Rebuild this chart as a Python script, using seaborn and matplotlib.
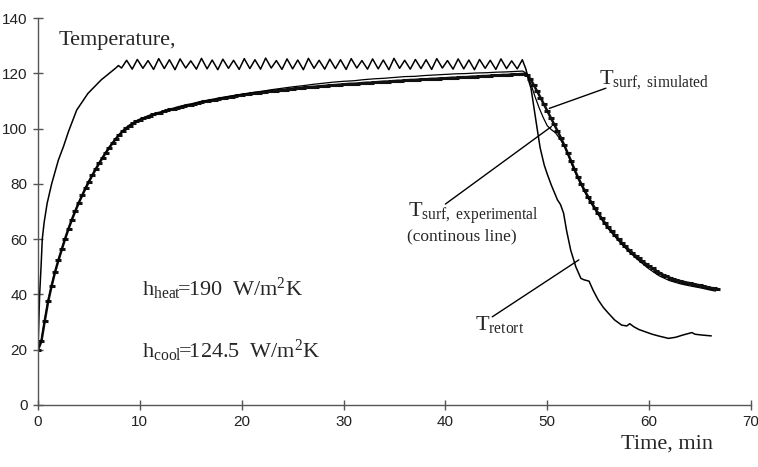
import numpy as np
import pandas as pd
import matplotlib
matplotlib.use("Agg")
import matplotlib.pyplot as plt
from matplotlib import font_manager
import seaborn as sns

# ---------------- data ----------------
# retort temperature: heating rise, zig-zag plateau, cooling
retort_rise_time = [0.0, 0.08, 0.16, 0.3, 0.42, 0.6, 0.9, 1.34, 2.0, 2.5, 3.0, 3.8, 4.9, 6.2, 7.0, 7.6, 7.9]
retort_rise_temp = [20.0, 30.0, 40.0, 50.0, 60.0, 66.0, 73.0, 80.0, 88.6, 93.5, 99.0, 106.7, 112.7, 117.6, 120.0, 121.8, 122.8]

zig_time = [8.2, 8.7, 9.25, 9.75, 10.3, 10.8, 11.35, 11.85, 12.4, 12.9, 13.45, 13.95, 14.5, 15.0,
            15.55, 16.05, 16.6, 17.1, 17.65, 18.15, 18.7, 19.2, 19.75, 20.25, 20.8, 21.3, 21.85, 22.35,
            22.9, 23.4, 23.95, 24.45, 25.0, 25.5, 26.05, 26.55, 27.1, 27.6, 28.15, 28.65, 29.2, 29.7,
            30.25, 30.75, 31.3, 31.8, 32.35, 32.85, 33.4, 33.9, 34.45, 34.95, 35.5, 36.0, 36.55, 37.05,
            37.6, 38.1, 38.65, 39.15, 39.7, 40.2, 40.75, 41.25, 41.8, 42.3, 42.85, 43.35, 43.9, 44.4,
            44.95, 45.45, 46.0, 46.5, 47.05, 47.55]
zig_temp = [121.9, 124.7, 121.5, 125.0, 121.8, 124.6, 121.4, 125.3, 121.7, 124.9, 121.3, 125.2, 121.9, 124.5,
            121.5, 125.4, 121.6, 124.8, 121.3, 125.1, 121.8, 124.7, 121.4, 125.3, 121.7, 124.9, 121.5, 125.5,
            121.9, 124.6, 121.4, 125.2, 121.6, 124.8, 121.3, 125.4, 121.8, 124.7, 121.5, 125.1, 121.7, 124.9,
            121.4, 125.3, 121.9, 124.6, 121.5, 125.2, 121.6, 124.8, 121.3, 125.4, 121.8, 124.7, 121.5, 125.0,
            121.7, 124.9, 121.4, 125.3, 121.9, 124.6, 121.5, 125.2, 121.6, 124.8, 121.3, 125.0, 121.8, 124.7,
            121.4, 125.2, 121.7, 124.5, 121.6, 124.9]

retort_cool_time = [47.9, 48.2, 48.4, 48.7, 49.0, 49.3, 49.7, 50.0, 50.4, 51.0, 51.3, 51.6, 51.9, 52.3, 52.8,
                    53.3, 53.6, 54.1, 54.5, 55.0, 55.5, 56.0, 56.6, 57.3, 57.8, 58.1, 58.5, 59.0, 59.6, 60.3,
                    61.0, 61.9, 62.6, 63.3, 64.2, 64.5, 65.2, 66.1]
retort_cool_temp = [121.5, 117.0, 114.6, 107.3, 100.1, 93.0, 86.8, 83.5, 79.5, 74.2, 72.5, 69.4, 63.0, 56.0, 50.0,
                    45.8, 45.3, 44.8, 41.5, 38.0, 35.3, 33.2, 30.8, 28.9, 28.6, 29.4, 28.3, 27.3, 26.5, 25.6,
                    24.9, 24.1, 24.5, 25.3, 26.2, 25.6, 25.3, 25.0]

# simulated surface temperature, sampled every 1/3 min
sim_step = 1.0 / 3.0
sim_temp = [20.0, 23.0, 30.5, 37.5, 43.0, 48.0, 52.3, 56.3, 60.2, 63.8,
            67.1, 70.2, 73.1, 75.8, 78.4, 80.8, 83.1, 85.3, 87.4, 89.4,
            91.3, 93.1, 94.8, 96.4, 97.8, 99.1, 100.2, 101.1, 101.9, 102.6,
            103.2, 103.7, 104.2, 104.7, 105.1, 105.5, 105.8, 106.2, 106.6, 106.9,
            107.2, 107.6, 107.9, 108.2, 108.5, 108.7, 109.0, 109.3, 109.6, 109.8,
            110.1, 110.3, 110.5, 110.8, 111.0, 111.2, 111.4, 111.6, 111.8, 112.0,
            112.2, 112.4, 112.5, 112.7, 112.9, 113.0, 113.2, 113.3, 113.5, 113.6,
            113.7, 113.9, 114.0, 114.1, 114.3, 114.4, 114.5, 114.7, 114.8, 114.9,
            115.0, 115.1, 115.2, 115.3, 115.4, 115.5, 115.6, 115.7, 115.8, 115.9,
            116.0, 116.1, 116.2, 116.2, 116.3, 116.4, 116.5, 116.6, 116.6, 116.7,
            116.8, 116.9, 117.0, 117.0, 117.1, 117.2, 117.3, 117.3, 117.4, 117.5,
            117.6, 117.6, 117.7, 117.8, 117.8, 117.9, 118.0, 118.0, 118.1, 118.2,
            118.2, 118.3, 118.4, 118.4, 118.5, 118.6, 118.6, 118.7, 118.8, 118.8,
            118.9, 119.0, 119.0, 119.1, 119.2, 119.2, 119.3, 119.4, 119.4, 119.5,
            119.6, 119.6, 119.7, 119.8, 119.3, 118.0, 115.8, 113.5, 111.2, 108.8,
            106.4, 104.0, 101.6, 99.2, 96.7, 94.0, 91.2, 88.3, 85.3, 82.5,
            80.0, 77.6, 75.4, 73.3, 71.3, 69.4, 67.6, 65.9, 64.3, 62.8,
            61.4, 60.0, 58.7, 57.4, 56.2, 55.1, 54.0, 53.0, 52.0, 51.1,
            50.2, 49.4, 48.6, 47.9, 47.2, 46.6, 46.1, 45.6, 45.2, 44.9,
            44.6, 44.3, 44.1, 43.8, 43.5, 43.3, 43.0, 42.7, 42.4, 42.2,
            42.0]

# experimental surface temperature (continuous line)
exp_time = [0.0, 0.33, 0.67, 1.0, 1.5, 2.0, 2.5, 3.0, 3.5, 4.0, 5.0, 6.0, 7.0, 8.0, 9.0, 10.0,
            11, 12, 13, 14, 15, 16, 17, 18, 19, 20, 21, 22, 23, 24, 25, 26, 27, 28, 29, 30,
            31, 32, 33, 34, 35, 36, 37, 38, 39, 40, 41, 42, 43, 44, 45, 46, 47, 47.6,
            48.0, 48.4, 48.8, 49.2, 49.6, 50.0, 50.4, 50.8, 51.3, 51.8, 52.3, 53.0, 54.0, 55.0,
            56.0, 57.0, 58.0, 59.0, 60.0, 61.0, 62.0, 63.0, 64.0, 65.0, 66.0, 66.5]
exp_temp = [20.0, 23.5, 31.0, 38.0, 45.8, 52.4, 58.4, 63.9, 68.8, 73.3, 81.0, 87.6, 93.3, 97.9, 101.2, 103.3,
            104.6, 105.8, 106.9, 107.9, 108.8, 109.6, 110.4, 111.1, 111.8, 112.4, 113.0, 113.5, 114.1, 114.6,
            115.1, 115.5, 116.0, 116.4, 116.8, 117.1, 117.3, 117.7, 118.0, 118.2, 118.5, 118.8, 118.9, 119.2,
            119.4, 119.6, 119.8, 119.9, 120.1, 120.2, 120.4, 120.5, 120.7, 120.8,
            119.8, 116.0, 111.5, 107.5, 104.0, 101.0, 99.6, 98.5, 96.0, 92.8, 88.0, 82.0, 74.8, 68.8,
            63.7, 59.4, 55.5, 52.2, 49.2, 46.7, 45.0, 43.9, 43.1, 42.4, 41.6, 41.2]

x_ticks = [0, 10, 20, 30, 40, 50, 60, 70]
y_ticks = [0, 20, 40, 60, 80, 100, 120, 140]

# ---------------- style ----------------
sns.set_theme(style="white")
plt.rcParams["font.family"] = ["Liberation Serif", "DejaVu Serif"]
plt.rcParams["mathtext.fontset"] = "custom"
plt.rcParams["mathtext.rm"] = "Liberation Serif"
plt.rcParams["mathtext.it"] = "Liberation Serif:italic"
plt.rcParams["mathtext.bf"] = "Liberation Serif:bold"

available = {f.name for f in font_manager.fontManager.ttflist}
tick_family = "Liberation Sans Narrow" if "Liberation Sans Narrow" in available else "Liberation Sans"

fig = plt.figure(figsize=(7.58, 4.67), dpi=100)
ax = fig.add_axes([38 / 758, 1 - 405 / 467, 713 / 758, 387 / 467])

retort = pd.DataFrame({
    "t": retort_rise_time + zig_time + retort_cool_time,
    "T": retort_rise_temp + zig_temp + retort_cool_temp,
})
sim = pd.DataFrame({"t": np.arange(len(sim_temp)) * sim_step, "T": sim_temp})
exp = pd.DataFrame({"t": exp_time, "T": exp_temp})

sns.lineplot(data=retort, x="t", y="T", ax=ax, color="black", linewidth=1.1,
             estimator=None, sort=False)
sns.lineplot(data=sim, x="t", y="T", ax=ax, color="#111111", linewidth=1.8,
             marker="_", markersize=5, markeredgewidth=2.2, markeredgecolor="#111111",
             estimator=None, sort=False)
sns.lineplot(data=exp, x="t", y="T", ax=ax, color="black", linewidth=0.9,
             estimator=None, sort=False)

ax.set_xlim(0, 70)
ax.set_ylim(0, 140)
ax.set_xticks(x_ticks)
ax.set_yticks(y_ticks)
ax.set_xlabel("")
ax.set_ylabel("")
for s in ["top", "right"]:
    ax.spines[s].set_visible(False)
for s in ["left", "bottom"]:
    ax.spines[s].set_color("#555555")
    ax.spines[s].set_linewidth(1.0)
ax.tick_params(axis="both", direction="inout", length=7, width=1, color="#555555",
               labelsize=11, labelcolor="#222222", pad=4, left=True, bottom=True)
for lab in ax.get_xticklabels() + ax.get_yticklabels():
    lab.set_family(tick_family)

fs = 16
ax.text(2.0, 130.2, "Temperature,", fontsize=fs, ha="left", va="baseline")
ax.text(57.2, -15.6, "Time, min", fontsize=fs, ha="left", va="baseline", clip_on=False)

ax.text(55.1, 116.4, r"$\mathrm{T}_{\mathrm{surf,\ simulated}}$", fontsize=fs, ha="left", va="baseline")
ax.plot([55.75, 50.2], [114.6, 107.3], color="black", linewidth=1.0)

ax.text(36.3, 68.1, r"$\mathrm{T}_{\mathrm{surf,\ experimental}}$", fontsize=fs, ha="left", va="baseline")
ax.text(41.6, 59.7, "(continous line)", fontsize=12.5, ha="center", va="baseline")
ax.plot([40.0, 50.4], [72.7, 100.7], color="black", linewidth=1.0)

ax.text(42.9, 27.1, r"$\mathrm{T}_{\mathrm{retort}}$", fontsize=fs, ha="left", va="baseline")
ax.plot([44.6, 53.1], [31.9, 52.5], color="black", linewidth=1.0)

ax.text(10.2, 39.6, r"$\mathrm{h}_{\mathrm{heat}}\!\!=\!\!\mathrm{190\ \ W/m^{2}K}$", fontsize=fs, ha="left", va="baseline")
ax.text(10.2, 17.0, r"$\mathrm{h}_{\mathrm{cool}}\!\!=\!\!\mathrm{124.5\ \ W/m^{2}K}$", fontsize=fs, ha="left", va="baseline")

fig.savefig("out.png", dpi=100)
